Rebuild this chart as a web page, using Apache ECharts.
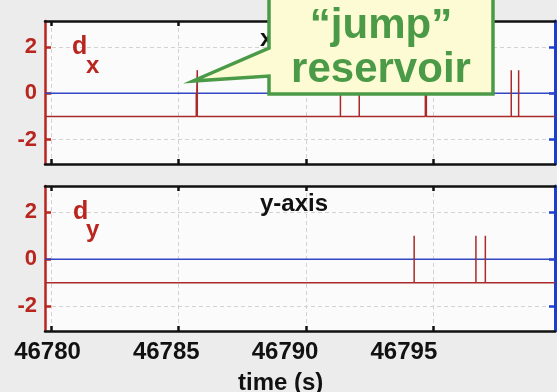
<!DOCTYPE html>
<html>
<head>
<meta charset="utf-8">
<style>
  html, body { margin: 0; padding: 0; background: #ececec; }
  #main { width: 557px; height: 392px; }
</style>
</head>
<body>
<div id="main"></div>
<script src="https://cdn.jsdelivr.net/npm/echarts@6/dist/echarts.min.js"></script>
<script>
    // time window shown (s)
    var tMin = 46779.74;
    var tMax = 46799.8;
    var timeTicks = [46780, 46785, 46790, 46795];
    var valueTicks = [-2, 0, 2];
    var vMin = -3.05;
    var vMax = 3.12;

    // levels
    var dBase = -1;
    var zeroLevel = 0;

    // jumps
    var jumpTimesX = [46785.69, 46785.73, 46791.36, 46792.10, 46794.70, 46794.74, 46798.08, 46798.37];
    var jumpTopsX  = [0, 1, 1, 1, 1, 1, 1, 1];
    var jumpTimesY = [46794.26, 46796.69, 46797.06];
    var jumpTopsY  = [1, 1, 1];

    var font = 'Liberation Sans, Arial, sans-serif';
    var red = '#b8261f';
    var lineRed = '#a82a2a';
    var blue = '#3347c4';
    var axisBlue = '#1d3fd0';
    var green = '#4a9a47';

    function spikeLine(times, tops) {
        var pts = [[tMin, dBase]];
        for (var i = 0; i < times.length; i++) {
            pts.push([times[i], dBase], [times[i], tops[i]], [times[i], dBase]);
        }
        pts.push([tMax, dBase]);
        return pts;
    }

    function frameX(grid, pos, split) {
        return {
            type: 'value', gridIndex: grid, position: pos, min: tMin, max: tMax,
            axisLine: {show: true, onZero: false, lineStyle: {color: '#111', width: 2.5}},
            axisTick: {show: true, inside: true, length: 5, customValues: timeTicks, lineStyle: {color: '#111', width: 2.5}},
            axisLabel: {show: false},
            splitLine: {show: split, lineStyle: {color: '#d2d2d2', type: [4, 3], width: 1}}
        };
    }

    function leftY(grid) {
        return {
            type: 'value', gridIndex: grid, position: 'left', min: vMin, max: vMax,
            axisLine: {show: true, onZero: false, lineStyle: {color: red, width: 2.5}},
            axisTick: {show: true, inside: true, length: 6, customValues: valueTicks, lineStyle: {color: red, width: 2.5}},
            axisLabel: {show: true, customValues: valueTicks, margin: 8, color: red, fontSize: 22, fontWeight: 'bold', fontFamily: font},
            splitLine: {show: true, lineStyle: {color: '#d2d2d2', type: [4, 3], width: 1}}
        };
    }

    function rightY(grid) {
        return {
            type: 'value', gridIndex: grid, position: 'right', min: vMin, max: vMax,
            axisLine: {show: true, onZero: false, lineStyle: {color: axisBlue, width: 3}},
            axisTick: {show: true, inside: true, length: 6, customValues: valueTicks, lineStyle: {color: axisBlue, width: 2.5}},
            axisLabel: {show: false},
            splitLine: {show: false}
        };
    }

    var myChart = echarts.init(document.getElementById('main'));
    var option = {
        backgroundColor: '#ececec',
        animation: false,
        grid: [
            {left: 45, right: 2, top: 21, height: 143, show: true, backgroundColor: '#fbfbfb', borderWidth: 0},
            {left: 45, right: 2, top: 186, height: 145, show: true, backgroundColor: '#fbfbfb', borderWidth: 0}
        ],
        xAxis: [
            frameX(0, 'bottom', true),
            frameX(0, 'top', false),
            frameX(1, 'bottom', true),
            frameX(1, 'top', false),
            // tick labels of the time axis, as placed in the picture
            {
                type: 'value', gridIndex: 1, position: 'bottom', min: 46779.895, max: 46801.36,
                axisLine: {show: false}, axisTick: {show: false}, splitLine: {show: false},
                axisLabel: {
                    show: true, customValues: timeTicks, margin: 9, color: '#111', fontSize: 24, fontWeight: 'bold', fontFamily: font,
                    formatter: function (v) { return String(v); }
                }
            }
        ],
        yAxis: [leftY(0), rightY(0), leftY(1), rightY(1)],
        title: {
            text: 'time (s)', left: 233, top: 366,
            textStyle: {color: '#111', fontSize: 24, fontWeight: 'bold', fontFamily: font}
        },
        graphic: [
            {type: 'text', left: 72, top: 35, z: 10, style: {text: 'd', fill: red, font: 'bold 25px ' + font}},
            {type: 'text', left: 86, top: 54, z: 10, style: {text: 'x', fill: red, font: 'bold 24px ' + font}},
            {type: 'text', left: 73, top: 200, z: 10, style: {text: 'd', fill: red, font: 'bold 25px ' + font}},
            {type: 'text', left: 86, top: 218, z: 10, style: {text: 'y', fill: red, font: 'bold 24px ' + font}},
            {type: 'text', left: 260, top: 27, z: 10, style: {text: 'x-axis', fill: '#111', font: 'bold 24px ' + font}},
            {type: 'text', left: 260, top: 192, z: 10, style: {text: 'y-axis', fill: '#111', font: 'bold 24px ' + font}},
            {
                type: 'polygon', z: 20,
                shape: {points: [[269, -5], [493, -5], [493, 94], [269, 94], [269, 76], [193, 81], [269, 48]]},
                style: {fill: '#fdfbd3', stroke: green, lineWidth: 3.5}
            },
            {type: 'text', z: 21, style: {x: 381, y: 26, text: '\u201cjump\u201d', fill: green, font: 'bold 42px ' + font, textAlign: 'center', textVerticalAlign: 'middle'}},
            {type: 'text', z: 21, style: {x: 381, y: 70, text: 'reservoir', fill: green, font: 'bold 42px ' + font, textAlign: 'center', textVerticalAlign: 'middle'}}
        ],
        series: [
            {
                name: 'zero x', type: 'line', xAxisIndex: 0, yAxisIndex: 1, symbol: 'none',
                data: [[tMin, zeroLevel], [tMax, zeroLevel]],
                lineStyle: {color: blue, width: 1.5}
            },
            {
                name: 'd_x', type: 'line', xAxisIndex: 0, yAxisIndex: 0, symbol: 'none',
                data: spikeLine(jumpTimesX, jumpTopsX),
                lineStyle: {color: lineRed, width: 1.5}
            },
            {
                name: 'zero y', type: 'line', xAxisIndex: 2, yAxisIndex: 3, symbol: 'none',
                data: [[tMin, zeroLevel], [tMax, zeroLevel]],
                lineStyle: {color: blue, width: 1.5}
            },
            {
                name: 'd_y', type: 'line', xAxisIndex: 2, yAxisIndex: 2, symbol: 'none',
                data: spikeLine(jumpTimesY, jumpTopsY),
                lineStyle: {color: lineRed, width: 1.5}
            }
        ]
    };
    myChart.setOption(option);
</script>
</body>
</html>
